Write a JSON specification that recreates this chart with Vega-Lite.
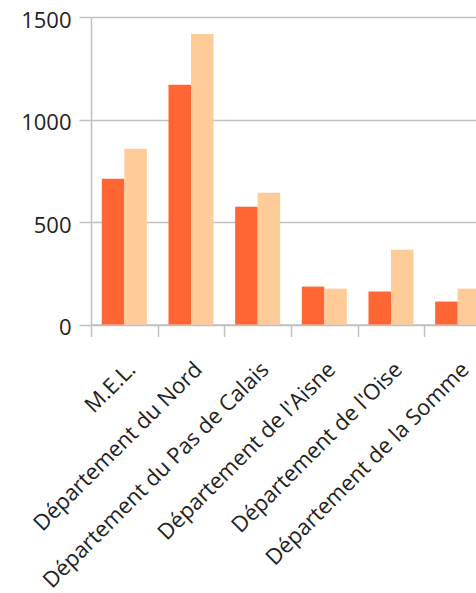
{
  "$schema": "https://vega.github.io/schema/vega-lite/v6.json",
  "autosize": "none",
  "width": 385,
  "height": 307.5,
  "padding": {"left": 91, "top": 17, "right": 0, "bottom": 268.5},
  "background": "white",
  "data": {
    "values": [
      {"zone": "M.E.L.", "serie": "A", "valeur": 711},
      {"zone": "M.E.L.", "serie": "B", "valeur": 857},
      {"zone": "Département du Nord", "serie": "A", "valeur": 1169},
      {"zone": "Département du Nord", "serie": "B", "valeur": 1417},
      {"zone": "Département du Pas de Calais", "serie": "A", "valeur": 575},
      {"zone": "Département du Pas de Calais", "serie": "B", "valeur": 643},
      {"zone": "Département de l'Aisne", "serie": "A", "valeur": 185},
      {"zone": "Département de l'Aisne", "serie": "B", "valeur": 175},
      {"zone": "Département de l'Oise", "serie": "A", "valeur": 161},
      {"zone": "Département de l'Oise", "serie": "B", "valeur": 365},
      {"zone": "Département de la Somme", "serie": "A", "valeur": 112},
      {"zone": "Département de la Somme", "serie": "B", "valeur": 175}
    ]
  },
  "mark": {"type": "bar"},
  "encoding": {
    "x": {
      "field": "zone",
      "type": "nominal",
      "sort": null,
      "title": null,
      "scale": {"range": [0, 400], "paddingInner": 0, "paddingOuter": 0},
      "axis": {
        "tickBand": "extent",
        "labelAngle": -45,
        "labelFont": "Open Sans",
        "labelFontSize": 22,
        "labelColor": "#222",
        "labelPadding": 22,
        "domainColor": "#c0c0c0",
        "domainWidth": 1.5,
        "tickColor": "#c0c0c0",
        "tickWidth": 1.5,
        "tickSize": 12,
        "labelOverlap": false,
        "labelLimit": 400
      }
    },
    "xOffset": {"field": "serie", "type": "nominal", "scale": {"paddingInner": 0, "paddingOuter": 0.48}},
    "y": {
      "field": "valeur",
      "type": "quantitative",
      "title": null,
      "scale": {"domain": [0, 1500], "nice": false},
      "axis": {
        "values": [0, 500, 1000, 1500],
        "format": "d",
        "labelFont": "Open Sans",
        "labelFontSize": 22,
        "labelColor": "#222",
        "labelPadding": 8,
        "labelOffset": 3,
        "domain": true,
        "domainColor": "#c0c0c0",
        "domainWidth": 1.5,
        "gridColor": "#c0c0c0",
        "gridWidth": 1.5,
        "tickColor": "#c0c0c0",
        "tickWidth": 1.5,
        "tickSize": 12
      }
    },
    "color": {
      "field": "serie",
      "type": "nominal",
      "scale": {"range": ["#FF6633", "#FFCC99"]},
      "legend": null
    }
  },
  "config": {"view": {"stroke": null}}
}
